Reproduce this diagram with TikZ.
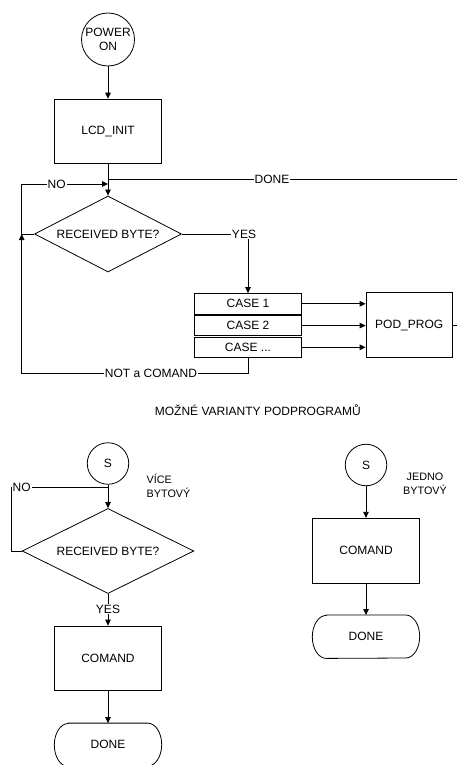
\documentclass[tikz,border=0pt]{standalone}
\usepackage{fontspec}
\setmainfont{Liberation Sans}
\usetikzlibrary{arrows.meta,shapes.geometric}
\tikzset{
  base/.style={draw, line width=0.8pt, font=\fontsize{12}{14}\selectfont, inner sep=0pt, align=center},
  proc/.style={base, rectangle, minimum width=107.4pt, minimum height=64.7pt},
  conn/.style={base, circle},
  decis/.style={base, diamond, shape aspect=2},
  term/.style={rectangle, font=\fontsize{12}{14}\selectfont, inner sep=0pt, minimum width=107pt, minimum height=43pt},
  casebox/.style={base, rectangle, minimum width=107.4pt, minimum height=20.5pt},
  lbl/.style={font=\fontsize{12}{14}\selectfont, fill=white, inner sep=1pt},
  txt/.style={font=\fontsize{12}{14}\selectfont, inner sep=0pt, align=center},
  side/.style={font=\fontsize{10.8}{14}\selectfont, inner sep=0pt},
  arr/.style={line width=0.8pt, -{Triangle[length=6pt,width=5.5pt]}},
  ln/.style={line width=0.8pt},
}
% outline of a terminal node with elliptic end caps (angles in page orientation)
\newcommand{\termoutline}[1]{%
  \draw[ln] ([xshift=14pt]#1.north west) -- ([xshift=-14pt]#1.north east)
    arc[start angle=90, end angle=-90, x radius=14pt, y radius=21.5pt]
    -- ([xshift=14pt]#1.south west)
    arc[start angle=270, end angle=90, x radius=14pt, y radius=21.5pt] -- cycle;}
\begin{document}
\begin{tikzpicture}[x=1pt,y=-1pt]
\clip (0,0) rectangle (457,765);
% ---- main flow ----
\node[conn, minimum size=53pt] (power) at (108,39.5) {POWER\\ON};
\node[proc] (lcd) at (108,131.5) {LCD\_INIT};
\node[decis, minimum width=147pt, minimum height=76pt] (dec1) at (108,234) {RECEIVED BYTE?};
\node[casebox] (c1) at (248,303.8) {CASE 1};
\node[casebox] (c2) at (248,325.6) {CASE 2};
\node[casebox] (c3) at (248,347.3) {CASE ...};
\node[proc, minimum width=86.3pt, minimum height=64.6pt] (pod) at (409.2,325) {POD\_PROG};
\coordinate (doneEnd) at (462,179);
\coordinate (doneStart) at (108,179);
\coordinate (podEnd) at (462,325);
\coordinate (noL) at (21.7,234);
\coordinate (ncB) at (21.7,373);
\coordinate (j1) at (108,184);

\draw[arr] (power) -- (lcd);
\draw[arr] (lcd) -- (dec1);
\draw[ln] (doneStart) -- (doneEnd);
\node[lbl] (donelbl) at (272,179) {DONE};
\draw[arr] (dec1.west) -- (noL) |- (j1);
\node[lbl] (no1) at (56.7,184) {NO};
\draw[arr] (c3.south) |- (ncB) -- (noL);
\node[lbl] (nac) at (151,373) {NOT a COMAND};
\draw[arr] (dec1.east) -| (c1.north);
\node[lbl] (yes1) at (244,234) {YES};
\draw[arr] (c1.east) -- (c1.east -| pod.west);
\draw[arr] (c2.east) -- (c2.east -| pod.west);
\draw[arr] (c3.east) -- (c3.east -| pod.west);
\draw[ln] (pod.east) -- (podEnd);

% ---- title ----
\node[txt] (title) at (257.8,410) {MOŽNÉ VARIANTY PODPROGRAMŮ};

% ---- bottom left: multi-byte ----
\node[conn, minimum size=41.5pt] (s1) at (108,463.5) {S};
\node[side, align=left, anchor=west] (vice) at (146.5,486) {VÍCE\\BYTOVÝ};
\node[decis, minimum width=171.6pt, minimum height=85pt] (dec2) at (108,551) {RECEIVED BYTE?};
\node[proc] (cmd1) at (108,658.4) {COMAND};
\node[term] (done1) at (108,744.8) {DONE};
\termoutline{done1}
\coordinate (j2) at (108,487.7);
\coordinate (lx2) at (11.7,551);
\draw[arr] (s1) -- (dec2);
\draw[ln] (dec2.west) -- (lx2) |- (j2);
\node[lbl] (no2) at (21.7,487.7) {NO};
\draw[arr] (dec2) -- (cmd1);
\node[lbl] (yes2) at (108,609) {YES};
\draw[arr] (cmd1) -- (done1);

% ---- bottom right: single-byte ----
\node[conn, minimum size=41.5pt] (s2) at (366,465) {S};
\node[side, align=center] (jedno) at (425,484) {JEDNO\\BYTOVÝ};
\node[proc] (cmd2) at (366,550.6) {COMAND};
\node[term] (done2) at (366,636.7) {DONE};
\termoutline{done2}
\draw[arr] (s2) -- (cmd2);
\draw[arr] (cmd2) -- (done2);
\end{tikzpicture}
\end{document}
